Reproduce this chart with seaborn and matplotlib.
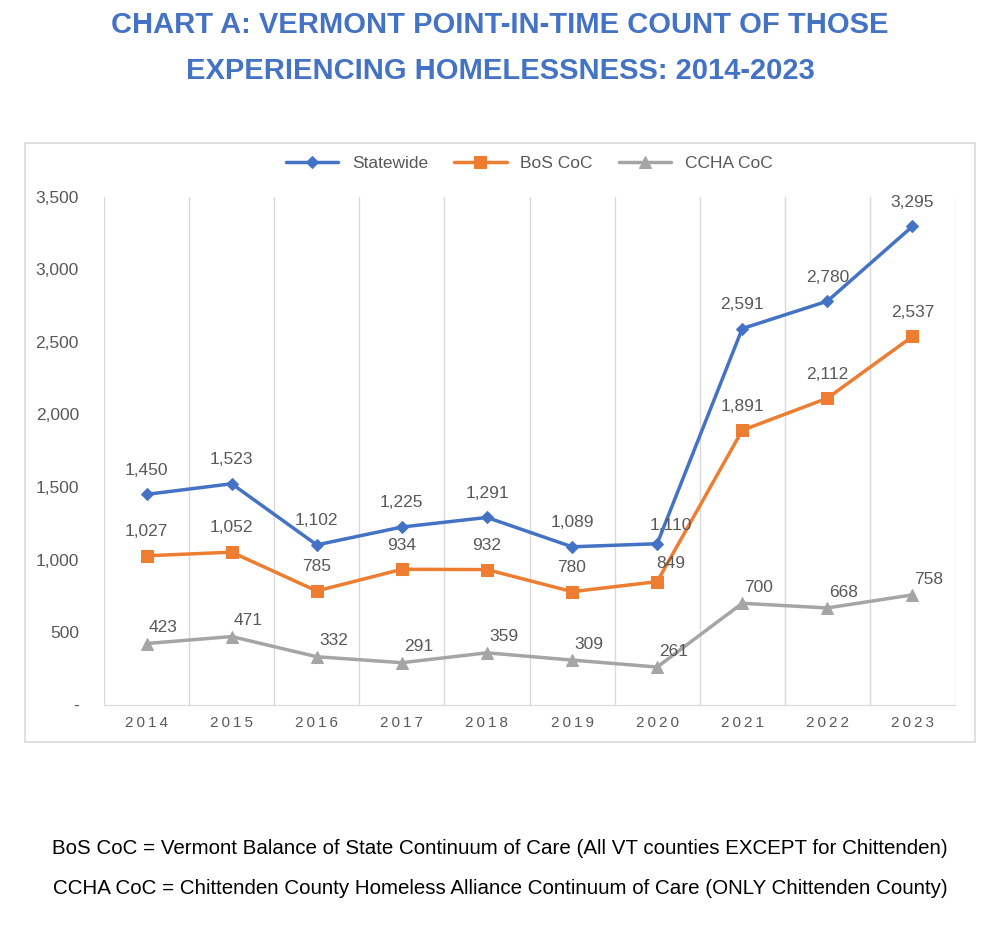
import numpy as np
import pandas as pd
import seaborn as sns
from matplotlib import pyplot as plt
from matplotlib.patches import Rectangle

years = ["2014", "2015", "2016", "2017", "2018", "2019", "2020", "2021", "2022", "2023"]
statewide = [1450, 1523, 1102, 1225, 1291, 1089, 1110, 2591, 2780, 3295]
bos = [1027, 1052, 785, 934, 932, 780, 849, 1891, 2112, 2537]
ccha = [423, 471, 332, 291, 359, 309, 261, 700, 668, 758]

sns.set_style("white")
plt.rcParams['font.family'] = ['Arial', 'Liberation Sans', 'DejaVu Sans']

fig = plt.figure(figsize=(10, 9.26), dpi=100)
ax = fig.add_axes([0.104, 0.2387, 0.851, 0.549])

# chart border
fig.patches.append(Rectangle((0.025, 1 - 742/926), 0.95, (742 - 143)/926, transform=fig.transFigure,
                             fill=False, edgecolor="#d9d9d9", linewidth=1.2))

x = np.arange(len(years))
series = [("Statewide", statewide, "#4472c4", "D", 6),
          ("BoS CoC", bos, "#ed7d31", "s", 8),
          ("CCHA CoC", ccha, "#a5a5a5", "^", 8)]
for name, vals, col, mk, ms in series:
    df = pd.DataFrame({"x": x, "y": vals})
    sns.lineplot(data=df, x="x", y="y", ax=ax, color=col, marker=mk, markersize=ms,
                 markeredgecolor=col, linewidth=2.5, label=name)
    for xi, v in zip(x, vals):
        dx, dy = 0, 12
        if name == "CCHA CoC":
            dx, dy = 12, 6
        if years[xi] == "2020" and name != "CCHA CoC":
            dx, dy = 10, 8
        ax.annotate(f"{v:,}", (xi, v), xytext=(dx, dy), textcoords="offset points",
                    ha="center", va="bottom", fontsize=12.5, color="#595959")

ax.set_xlim(-0.5, len(years) - 0.5)
ax.set_ylim(0, 3500)
ax.set_xticks(x)
ax.set_xticklabels(["\u2009".join(y) for y in years], fontsize=11, color="#595959")
ax.set_yticks(range(0, 3501, 500))
ax.set_yticklabels(["-"] + [f"{v:,}" for v in range(500, 3501, 500)], fontsize=12.5, color="#595959")
ax.tick_params(axis="x", pad=8, length=0)
ax.tick_params(axis="y", pad=18, length=0)
for b in np.arange(-0.5, len(years), 1.0):
    ax.axvline(b, color="#d9d9d9", linewidth=1, zorder=0)
for s in ["top", "right", "left"]:
    ax.spines[s].set_visible(False)
ax.spines["bottom"].set_color("#d9d9d9")
ax.set_xlabel("")
ax.set_ylabel("")
ax.legend(loc="upper center", bbox_to_anchor=(0.5, 1.11), ncol=3, frameon=False,
          fontsize=12.5, labelcolor="#595959", handlelength=3, columnspacing=1.5)

fig.text(0.5, 1 - 25/926, "CHART A: VERMONT POINT-IN-TIME COUNT OF THOSE", ha="center", va="center",
         fontsize=21, fontweight="heavy", color="#4472c4")
fig.text(0.5, 1 - 71/926, "EXPERIENCING HOMELESSNESS: 2014-2023", ha="center", va="center",
         fontsize=21, fontweight="heavy", color="#4472c4")
fig.text(0.5, 1 - 849/926, "BoS CoC = Vermont Balance of State Continuum of Care (All VT counties EXCEPT for Chittenden)",
         ha="center", va="center", fontsize=14.8, color="black")
fig.text(0.5, 1 - 889/926, "CCHA CoC = Chittenden County Homeless Alliance Continuum of Care (ONLY Chittenden County)",
         ha="center", va="center", fontsize=14.8, color="black")

fig.savefig("out.png", dpi=100)
